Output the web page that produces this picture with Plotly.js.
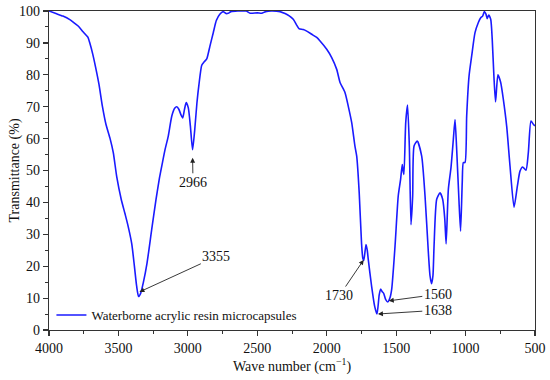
<!DOCTYPE html>
<html>
<head>
<meta charset="utf-8">
<script src="https://cdn.plot.ly/plotly-3.0.1.min.js"></script>
<style>html,body{margin:0;padding:0;background:#fff;}#chart{width:550px;height:380px;}</style>
</head>
<body>
<div id="chart"></div>
<script>
// Wavenumber (cm^-1) and transmittance (%)
const wavenumber = [4000,3950,3900,3850,3825,3790,3755,3730,3720,3705,3685,3665,3640,3615,3590,3560,3537,3512,3480,3453,3430,3404,3385,3369,3355,3340,3320,3294,3260,3229,3205,3185,3164,3141,3116,3095,3080,3065,3050,3037,3025,3012,2997,2982,2966,2950,2935,2920,2900,2884,2864,2841,2817,2795,2770,2745,2725,2709,2690,2640,2580,2552,2500,2468,2440,2400,2336,2300,2270,2241,2215,2200,2169,2144,2108,2072,2048,2000,1964,1928,1904,1868,1845,1820,1797,1784,1766,1749,1740,1733,1717,1708,1701,1677,1655,1638,1622,1612,1600,1590,1575,1560,1545,1532,1508,1485,1468,1456,1450,1444,1431,1418,1405,1393,1381,1371,1348,1316,1292,1268,1256,1245,1235,1227,1208,1184,1165,1150,1140,1124,1105,1088,1076,1064,1048,1036,1024,1016,1004,992,975,956,932,908,891,877,865,853,844,834,819,808,796,784,767,747,728,704,680,651,627,608,589,565,548,529,512,500];
const transmittance = [100,99.2,98.4,97.3,96.5,95.3,93.5,92.3,91.8,89.8,86.5,82.5,77,70,64.5,60,55.6,48,41,36.5,32.5,27,20,13.8,10.5,11.5,15,21,31.6,41,47.5,52,56.6,60.8,67,69.5,70,69.2,67.5,66.5,69,71.3,69.7,64,56.5,63,71,77,83,84,85,89,93.2,97,99,99.8,99.2,99.3,99.8,100,100,99.3,99.4,99.3,99.8,100,99.8,99.2,98.5,97.4,95.5,94.5,94.2,93.7,92.7,91.7,90.6,88,85.4,81.7,77.6,74.4,70.2,65,57.7,54.5,43,27,22.5,21.8,26.8,25,22.2,13.8,7.5,5,11,12.8,12,11.5,9.5,8.8,10,12.8,26.3,42,47.2,51.9,50,48.8,65,70.5,57.7,33,42,57.7,59.2,54.5,42,24.3,17,14.5,17,26.3,41,43,41,35,27,44.1,50.9,59.8,66,56.6,41,31,46.2,52.5,52.5,67.1,79.6,85.9,93.2,96.4,97.9,98.4,99.8,99,97.6,98.7,97.4,91.1,79.6,71.5,80,77.6,72.3,63.9,51.4,38.5,45.1,49.8,51.1,50.1,55.6,65.5,64.5,64];

const seriesName = 'Waterborne acrylic resin microcapsules';
const xTickVals = [4000,3500,3000,2500,2000,1500,1000,500];
const yTickVals = [0,10,20,30,40,50,60,70,80,90,100];
const xTitle = 'Wave number (cm<sup>−1</sup>)';
const yTitle = 'Transmittance (%)';

// Peak labels: wavenumber, label text position (wavenumber, %)
const peakWn = [3355, 2966, 1730, 1560, 1638];
const peakLabel = ['3355', '2966', '1730', '1560', '1638'];
const labelWn = [2795, 2963, 1908, 1200, 1200];
const labelT = [23, 46.3, 10.8, 11.2, 6.2];
const headOffsetT = [1.3, -2.2, -0.5, 0.3, 0.0];

function interpT(w) {
  for (let i = 0; i < wavenumber.length - 1; i++) {
    const a = wavenumber[i], b = wavenumber[i + 1];
    if ((w <= a && w >= b)) {
      const f = (a - w) / (a - b);
      return transmittance[i] + f * (transmittance[i + 1] - transmittance[i]);
    }
  }
  return null;
}

const serif = '"Liberation Serif", "Times New Roman", serif';

const annotations = peakWn.map((w, i) => ({
  x: w, y: interpT(w) + headOffsetT[i], xref: 'x', yref: 'y',
  ax: labelWn[i], ay: labelT[i], axref: 'x', ayref: 'y',
  text: peakLabel[i], showarrow: true,
  arrowhead: 2, arrowsize: 1.1, arrowwidth: 0.9, arrowcolor: '#222',
  standoff: 1, startstandoff: 0,
  font: {family: serif, size: 14, color: '#111'}
}));
// y-axis title placed as a rotated label left of the tick labels
annotations.push({
  text: yTitle, xref: 'paper', yref: 'paper', x: -0.072, y: 0.5,
  xanchor: 'center', yanchor: 'middle', textangle: -90, showarrow: false,
  font: {family: serif, size: 14, color: '#111'}
});

const trace = {
  x: wavenumber, y: transmittance, type: 'scatter', mode: 'lines',
  name: seriesName,
  line: {color: '#1a1aff', width: 1.6, shape: 'spline', smoothing: 0.6}
};

const axisCommon = {
  showline: true, mirror: true, linecolor: '#333', linewidth: 1.3,
  ticks: 'outside', ticklen: 5, tickwidth: 1.2, tickcolor: '#333',
  showgrid: false, zeroline: false,
  tickfont: {family: serif, size: 14, color: '#111'}
};

const layout = {
  width: 550, height: 380,
  margin: {l: 49, r: 15, t: 11, b: 50},
  paper_bgcolor: '#fff', plot_bgcolor: '#fff',
  showlegend: true,
  legend: {x: 0.005, y: 0.0, xanchor: 'left', yanchor: 'bottom', bgcolor: 'rgba(0,0,0,0)',
           font: {family: serif, size: 13, color: '#111'}},
  xaxis: Object.assign({}, axisCommon, {
    range: [4000, 500], tickvals: xTickVals,
    minor: {dtick: 250, tick0: 500, ticks: 'outside', ticklen: 3, tickwidth: 1, tickcolor: '#333'},
    title: {text: xTitle, font: {family: serif, size: 14, color: '#111'}, standoff: 6}
  }),
  yaxis: Object.assign({}, axisCommon, {
    range: [0, 100], tickvals: yTickVals,
    minor: {dtick: 5, tick0: 0, ticks: 'outside', ticklen: 3, tickwidth: 1, tickcolor: '#333'}
  }),
  annotations: annotations
};

Plotly.newPlot('chart', [trace], layout, {displayModeBar: false, staticPlot: true});
</script>
</body>
</html>
